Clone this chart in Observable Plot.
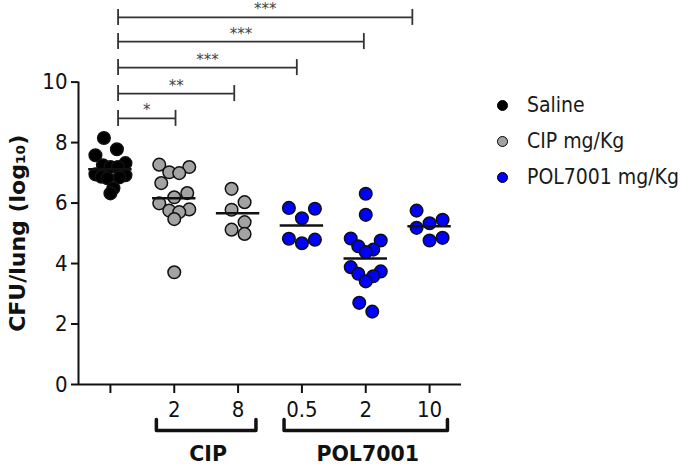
<!DOCTYPE html>
<html><head><meta charset="utf-8">
<script src="https://cdn.jsdelivr.net/npm/d3@7"></script>
<script src="https://cdn.jsdelivr.net/npm/@observablehq/plot@0.6"></script>
<style>
body{margin:0;background:#fff;}
#wrap{position:relative;width:680px;height:466px;}
#legend{position:absolute;left:497px;top:87px;font-family:"DejaVu Sans Condensed","DejaVu Sans",sans-serif;font-size:21px;color:#1a1a1a;}
.item{display:flex;align-items:center;height:36px;white-space:nowrap;}
.sw{width:11px;height:11px;border-radius:50%;margin-right:19px;border:1px solid #000;box-sizing:border-box;}
</style></head><body><div id="wrap"><div id="legend"></div></div>
<script>
// ---- data ----
const groups = ["Saline", "CIP 2", "CIP 8", "POL7001 0.5", "POL7001 2", "POL7001 10"];
const doseLabels = ["", "2", "8", "0.5", "2", "10"];
const treatment = ["Saline", "CIP", "CIP", "POL7001", "POL7001", "POL7001"];
const salineValues = [8.15, 7.78, 7.58, 7.32, 7.25, 7.19, 7.19, 6.95, 6.92, 6.87, 6.85, 6.82, 6.49, 6.32];
const cip2Values = [7.27, 7.19, 7.02, 6.99, 6.66, 6.33, 6.19, 5.99, 5.79, 5.75, 5.70, 5.47, 3.71];
const cip8Values = [6.47, 6.03, 5.78, 5.37, 5.12, 4.98];
const pol05Values = [5.84, 5.81, 5.50, 4.82, 4.79, 4.67];
const pol2Values = [6.31, 5.61, 4.83, 4.76, 4.57, 4.46, 4.38, 3.88, 3.74, 3.66, 3.58, 3.41, 2.70, 2.41];
const pol10Values = [5.75, 5.45, 5.33, 5.18, 4.85, 4.76];
const groupMeans = [7.12, 6.16, 5.66, 5.26, 4.17, 5.23];
const yTicks = [0, 2, 4, 6, 8, 10];
// significance brackets: level (y), start and end on the group axis
const bracketLevel = [8.80, 9.62, 10.48, 11.34, 12.14];
const bracketStart = [0.12, 0.12, 0.12, 0.12, 0.12];
const bracketEnd = [1.02, 1.94, 2.92, 3.97, 4.73];
const bracketStars = ["*", "**", "***", "***", "***"];
const braceLabels = ["CIP", "POL7001"];
const braceFrom = [1, 3];
const braceTo = [2, 5];
const legendLabels = ["Saline", "CIP mg/Kg", "POL7001 mg/Kg"];
const legendKeys = ["Saline", "CIP", "POL7001"];
const colors = ["#000000", "#a3a3a3", "#0000ff"];
const yLabel = "CFU/lung (log₁₀)";

const allValues = [salineValues, cip2Values, cip8Values, pol05Values, pol2Values, pol10Values];

// ---- layout ----
const W = 680, H = 466, mL = 78, mR = 219, mT = 6, mB = 82;
const xDom = [-0.5, 5.5], yDom = [0, 12.5];
const kx = (W - mL - mR) / (xDom[1] - xDom[0]);
const ky = (H - mT - mB) / (yDom[1] - yDom[0]);
const R = 6.3;

function swarm(vals) {
  const D = 13, maxSpan = 30, binH = 0.5;
  const idx = vals.map((v, i) => i).sort((a, b) => vals[b] - vals[a]);
  const bins = []; let cur = null;
  for (const i of idx) {
    if (!cur || vals[cur[0]] - vals[i] > binH) { cur = [i]; bins.push(cur); } else cur.push(i);
  }
  const off = new Array(vals.length).fill(0);
  for (const b of bins) {
    const n = b.length;
    if (n === 1) continue;
    const s = Math.min(D, maxSpan / (n - 1));
    const slots = d3.range(n).map(k => (k - (n - 1) / 2) * s)
      .sort((a, c) => Math.abs(a) - Math.abs(c) || c - a);
    const asc = b.slice().sort((a, c) => vals[a] - vals[c]);
    asc.forEach((i, k) => off[i] = slots[k]);
  }
  return off;
}

const points = [];
allValues.forEach((vals, gi) => {
  const offs = swarm(vals);
  vals.forEach((v, i) => points.push({g: gi, x: gi + offs[i] / kx, y: v, t: treatment[gi]}));
});
const means = groupMeans.map((m, i) => ({i, m}));
const brackets = bracketLevel.map((lv, i) => ({lv, a: bracketStart[i], b: bracketEnd[i], s: bracketStars[i]}));
const tickH = 8 / ky;
const bracketEnds = brackets.flatMap(d => [{x: d.a, lv: d.lv}, {x: d.b, lv: d.lv}]);
const pad = 0.28, bTop = -1.16, bBot = -1.52;
const braceLines = braceLabels.map((lab, i) => {
  const a = braceFrom[i] - pad, b = braceTo[i] + pad;
  return [[a, bTop], [a, bBot], [b, bBot], [b, bTop]].map(([x, y]) => ({x, y, lab}));
}).flat();
const braceText = braceLabels.map((lab, i) => ({lab, x: (braceFrom[i] + braceTo[i]) / 2 + 0.03}));

const bold = "DejaVu Sans, Verdana, sans-serif";
const chart = Plot.plot({
  width: W, height: H,
  marginLeft: mL, marginRight: mR, marginTop: mT, marginBottom: mB,
  x: {domain: xDom, axis: null},
  y: {domain: yDom, axis: null},
  color: {domain: legendKeys, range: colors},
  style: {fontFamily: "'Liberation Sans Narrow', 'DejaVu Sans Condensed', sans-serif", fontSize: "22px", color: "#111", background: "#fff", overflow: "visible"},
  marks: [
    Plot.axisY({ticks: yTicks, tickSize: 7, tickPadding: 4, strokeWidth: 2, label: null, fontSize: 22}),
    Plot.axisX({ticks: d3.range(groups.length), tickFormat: i => doseLabels[i], tickSize: 9, tickPadding: 8, strokeWidth: 2, label: null, fontSize: 22}),
    Plot.ruleY([0], {x1: xDom[0], x2: xDom[1], strokeWidth: 2, stroke: "#111"}),
    Plot.ruleX([xDom[0]], {y1: 0, y2: 10, strokeWidth: 2, stroke: "#111"}),
    Plot.dot(points, {x: "x", y: "y", fill: "t", stroke: "#111", strokeWidth: 1.5, r: R}),
    Plot.ruleY(means, {y: "m", x1: d => d.i - 0.34, x2: d => d.i + 0.34, stroke: "#111", strokeWidth: 2.5}),
    Plot.ruleY(brackets, {y: "lv", x1: "a", x2: "b", stroke: "#333", strokeWidth: 1.8}),
    Plot.ruleX(bracketEnds, {x: "x", y1: d => d.lv - tickH, y2: d => d.lv + tickH, stroke: "#333", strokeWidth: 1.8}),
    Plot.text(brackets, {x: d => (d.a + d.b) / 2, y: "lv", text: "s", lineAnchor: "bottom", dy: -3, fontFamily: bold, fontSize: 15, fill: "#444"}),
    Plot.line(braceLines, {x: "x", y: "y", z: "lab", stroke: "#111", strokeWidth: 3.5, strokeLinejoin: "round", strokeLinecap: "round"}),
    Plot.text(braceText, {x: "x", y: -2.3, text: "lab", fontFamily: bold, fontWeight: "bold", fontSize: 20.5, fill: "#111"}),
    Plot.text([yLabel], {x: xDom[0] - 61 / kx, y: 5, rotate: -90, fontFamily: bold, fontWeight: "bold", fontSize: 22, fill: "#111"})
  ]
});
document.getElementById("wrap").prepend(chart);

const leg = document.getElementById("legend");
legendLabels.forEach((lab, i) => {
  const it = document.createElement("div"); it.className = "item";
  const sw = document.createElement("span"); sw.className = "sw"; sw.style.background = colors[i];
  const tx = document.createElement("span"); tx.textContent = lab;
  it.append(sw, tx); leg.append(it);
});
</script></body></html>
